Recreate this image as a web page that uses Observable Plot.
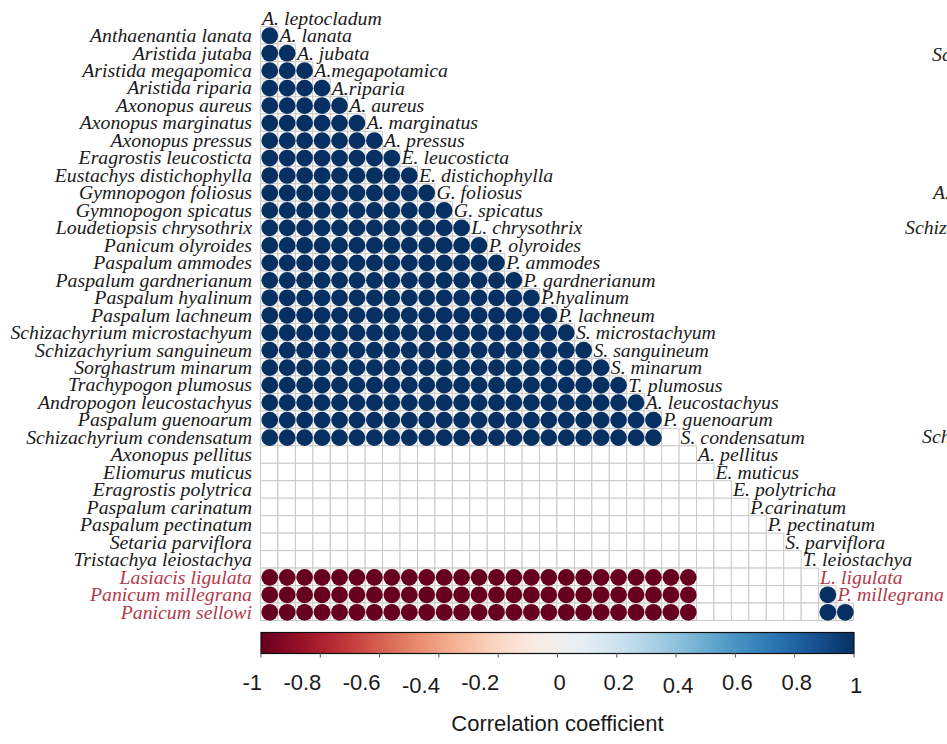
<!DOCTYPE html>
<html>
<head>
<meta charset="utf-8">
<script src="https://cdn.jsdelivr.net/npm/d3@7"></script>
<script src="https://cdn.jsdelivr.net/npm/@observablehq/plot@0.6"></script>
<style>
  html, body { margin: 0; padding: 0; background: #fff; }
  #chart { position: relative; width: 947px; height: 744px; overflow: hidden; }
  #chart > svg { display: block; }
  .edge { position: absolute; font: italic 19.8px "Liberation Serif", serif; color: #222; white-space: nowrap; line-height: 1; }
</style>
</head>
<body>
<div id="chart"></div>
<script>
// Species on the rows of the lower triangle
const rowNames = [
  "Anthaenantia lanata", "Aristida jutaba", "Aristida megapomica", "Aristida riparia",
  "Axonopus aureus", "Axonopus marginatus", "Axonopus pressus", "Eragrostis leucosticta",
  "Eustachys distichophylla", "Gymnopogon foliosus", "Gymnopogon spicatus",
  "Loudetiopsis chrysothrix", "Panicum olyroides", "Paspalum ammodes",
  "Paspalum gardnerianum", "Paspalum hyalinum", "Paspalum lachneum",
  "Schizachyrium microstachyum", "Schizachyrium sanguineum", "Sorghastrum minarum",
  "Trachypogon plumosus", "Andropogon leucostachyus", "Paspalum guenoarum",
  "Schizachyrium condensatum", "Axonopus pellitus", "Eliomurus muticus",
  "Eragrostis polytrica", "Paspalum carinatum", "Paspalum pectinatum",
  "Setaria parviflora", "Tristachya leiostachya", "Lasiacis ligulata",
  "Panicum millegrana", "Panicum sellowi"
];

// Species on the columns (abbreviated names written along the diagonal)
const colNames = [
  "A. leptocladum", "A. lanata", "A. jubata", "A.megapotamica", "A.riparia",
  "A. aureus", "A. marginatus", "A. pressus", "E. leucosticta", "E. distichophylla",
  "G. foliosus", "G. spicatus", "L. chrysothrix", "P. olyroides", "P. ammodes",
  "P. gardnerianum", "P.hyalinum", "P. lachneum", "S. microstachyum", "S. sanguineum",
  "S. minarum", "T. plumosus", "A. leucostachyus", "P. guenoarum", "S. condensatum",
  "A. pellitus", "E. muticus", "E. polytricha", "P.carinatum", "P. pectinatum",
  "S. parviflora", "T. leiostachya", "L. ligulata", "P. millegrana"
];

// Species whose names are set in red
const highlighted = [
  "Lasiacis ligulata", "Panicum millegrana", "Panicum sellowi",
  "L. ligulata", "P. millegrana"
];

// Correlation per row, one character per column:
// "+" = 1, "-" = -1, "." = 0 (no circle)
const rowCodes = [
  "+",
  "++",
  "+++",
  "++++",
  "+++++",
  "++++++",
  "+++++++",
  "++++++++",
  "+++++++++",
  "++++++++++",
  "+++++++++++",
  "++++++++++++",
  "+++++++++++++",
  "++++++++++++++",
  "+++++++++++++++",
  "++++++++++++++++",
  "+++++++++++++++++",
  "++++++++++++++++++",
  "+++++++++++++++++++",
  "++++++++++++++++++++",
  "+++++++++++++++++++++",
  "++++++++++++++++++++++",
  "+++++++++++++++++++++++",
  "+++++++++++++++++++++++.",
  ".........................",
  "..........................",
  "...........................",
  "............................",
  ".............................",
  "..............................",
  "...............................",
  "-------------------------.......",
  "-------------------------.......+",
  "-------------------------.......++"
];

// Colour bar ticks
const tickValues = [-1, -0.8, -0.6, -0.4, -0.2, 0, 0.2, 0.4, 0.6, 0.8, 1];
const loweredTicks = [-0.4, 0.4, 1];
const scaleLabel = "Correlation coefficient";

const codeValue = {"+": 1, "-": -1, ".": 0};
const cells = rowCodes.flatMap((code, i) =>
  Array.from(code, (ch, j) => ({row: rowNames[i], col: colNames[j], r: codeValue[ch]}))
);

const RED = "#b23a4b";
const INK = "#1a1a1a";
const isRed = (d) => highlighted.includes(d) ? RED : INK;

const W = 947;
const left = 260.5, right = 93.5;
const cellSize = (W - left - right) / colNames.length;

const colorScale = {type: "linear", scheme: "RdBu", domain: [-1, 1]};

const matrix = Plot.plot({
  width: W,
  height: 624,
  marginLeft: left,
  marginRight: right,
  marginTop: 26.5,
  marginBottom: 3.5,
  style: {fontFamily: "'Liberation Serif', 'Times New Roman', serif", fontSize: "19.8px", background: "transparent", overflow: "visible"},
  x: {domain: colNames, padding: 0, round: false, axis: null},
  y: {domain: rowNames, padding: 0, round: false, axis: null},
  r: {type: "linear", domain: [0, 1], range: [0, cellSize * 0.48]},
  color: colorScale,
  marks: [
    Plot.cell(cells, {x: "col", y: "row", fill: "white", stroke: "#c9c9c9", strokeWidth: 1}),
    Plot.dot(cells.filter((d) => d.r !== 0), {x: "col", y: "row", r: (d) => Math.abs(d.r), fill: "r", stroke: null}),
    // row names on the left
    Plot.text(rowNames, {
      y: (d) => d, frameAnchor: "left", textAnchor: "end", dx: -9,
      text: (d) => d, fill: isRed, fontStyle: "italic"
    }),
    // column names along the diagonal, just above each column's first cell
    Plot.text(colNames, {
      x: (d) => d, y: (d, i) => rowNames[i], dy: -cellSize, dx: -cellSize / 2 + 1,
      textAnchor: "start", text: (d) => d, fill: isRed, fontStyle: "italic"
    })
  ]
});

const labelDy = (d) => loweredTicks.includes(d) ? 3 : 0;

const bar = Plot.plot({
  width: W,
  height: 120,
  marginLeft: left,
  marginRight: right,
  marginTop: 8,
  marginBottom: 91,
  style: {fontFamily: "'Liberation Sans', Arial, sans-serif", fontSize: "22px", background: "transparent", overflow: "visible"},
  x: {type: "linear", domain: [-1, 1], axis: null},
  y: {type: "linear", domain: [0, 1], axis: null},
  color: colorScale,
  marks: [
    Plot.raster({x1: -1, x2: 1, y1: 0, y2: 1, width: 400, height: 1, fill: (x, y) => x, imageRendering: "auto"}),
    Plot.frame({stroke: "#111", strokeWidth: 1.2}),
    Plot.ruleX(tickValues, {x: (d) => d, y1: 0, y2: -0.22, stroke: "#555"}),
    // negative labels end at their tick, the others sit centred on it
    ...[0, 3].map((shift) => Plot.text(tickValues.filter((d) => d < 0 && labelDy(d) === shift), {
      x: (d) => d, frameAnchor: "bottom", textAnchor: "end", dx: 1,
      dy: 36 + shift, text: (d) => String(d), fill: INK
    })),
    ...[0, 3].map((shift) => Plot.text(tickValues.filter((d) => d >= 0 && labelDy(d) === shift), {
      x: (d) => d, frameAnchor: "bottom", dx: 2,
      dy: 36 + shift, text: (d) => String(d), fill: INK
    })),
    Plot.text([scaleLabel], {x: 0, frameAnchor: "bottom", dy: 77, text: (d) => d, fill: INK})
  ]
});

const chart = document.getElementById("chart");
chart.append(matrix, bar);

// labels of the neighbouring panel, cut off by the right edge
[["Schizachyrium", 932, 55], ["A.", 933, 193], ["Schizachyrium", 905, 228], ["Schizachyrium", 922, 437]]
  .forEach(([t, x, y]) => {
    const s = document.createElement("span");
    s.className = "edge";
    s.textContent = t;
    s.style.left = x + "px";
    s.style.top = (y - 10) + "px";
    chart.append(s);
  });
</script>
</body>
</html>
